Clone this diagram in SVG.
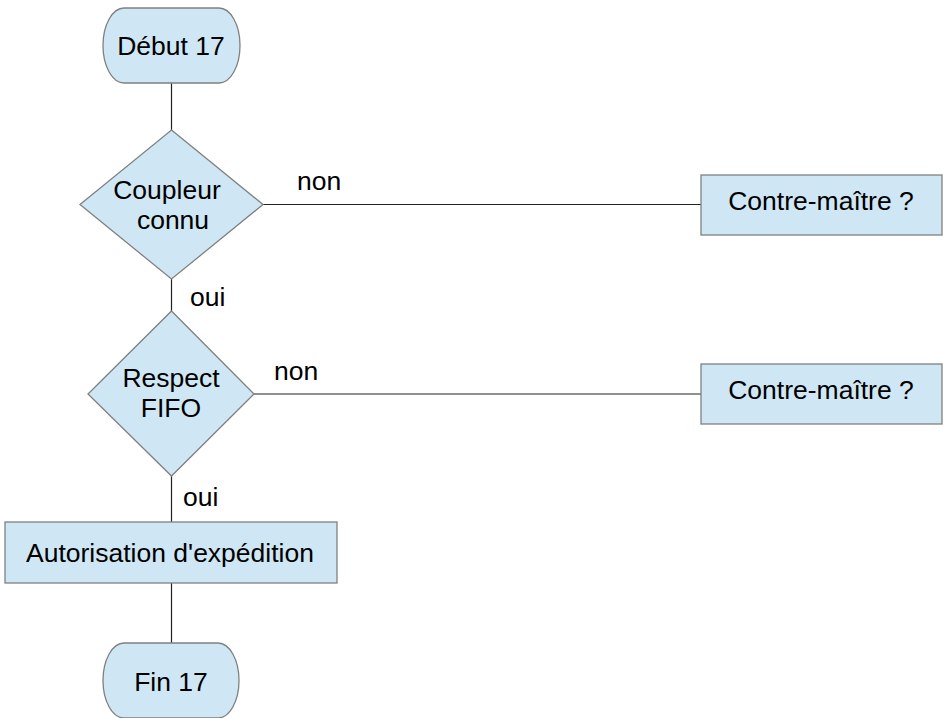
<svg xmlns="http://www.w3.org/2000/svg" width="943" height="718" viewBox="0 0 943 718">
<style>
.shape{fill:#cfe7f5;stroke:#808080;stroke-width:1.3}
.conn{stroke:#222;stroke-width:1.2;fill:none}
.t{font-family:"Liberation Sans",Arial,sans-serif;font-size:26.5px;fill:#000}
.c{text-anchor:middle}
</style>
<rect width="943" height="718" fill="#fff"/>
<g id="connectors">
<line class="conn" x1="171.5" y1="83" x2="171.5" y2="130"/>
<line class="conn" x1="263" y1="204.5" x2="701" y2="204.5"/>
<line class="conn" x1="171.5" y1="279" x2="171.5" y2="311"/>
<line class="conn" x1="254" y1="394" x2="701" y2="394"/>
<line class="conn" x1="171.5" y1="476" x2="171.5" y2="522"/>
<line class="conn" x1="171.5" y1="583" x2="171.5" y2="643"/>
<text class="t" x="297" y="190">non</text>
<text class="t" x="190" y="306">oui</text>
<text class="t" x="274" y="380">non</text>
<text class="t" x="183" y="506">oui</text>
</g>
<g id="debut">
<path class="shape" d="M124 8 H219 A21 37.5 0 0 1 219 83 H124 A21 37.5 0 0 1 124 8 Z"/>
<text class="t c" x="171" y="55">Début 17</text>
</g>
<g id="coupleur">
<polygon class="shape" points="171.5,130 263,204.5 171.5,279 80,204.5"/>
<text class="t c" x="167" y="199">Coupleur</text>
<text class="t c" x="173" y="229">connu</text>
</g>
<g id="contremaitre1">
<rect class="shape" x="701" y="175" width="241" height="60"/>
<text class="t c" x="821" y="210">Contre-maître ?</text>
</g>
<g id="fifo">
<polygon class="shape" points="171.5,311 254,394 171.5,476 88,394"/>
<text class="t c" x="171" y="387">Respect</text>
<text class="t c" x="171" y="417">FIFO</text>
</g>
<g id="contremaitre2">
<rect class="shape" x="701" y="364" width="241" height="60"/>
<text class="t c" x="821" y="399">Contre-maître ?</text>
</g>
<g id="autorisation">
<rect class="shape" x="5" y="522" width="332" height="61"/>
<text class="t c" x="170" y="562">Autorisation d'expédition</text>
</g>
<g id="fin">
<path class="shape" d="M124 643 H218 A21 37.5 0 0 1 218 718 H124 A21 37.5 0 0 1 124 643 Z"/>
<text class="t c" x="171" y="691">Fin 17</text>
</g>
</svg>
